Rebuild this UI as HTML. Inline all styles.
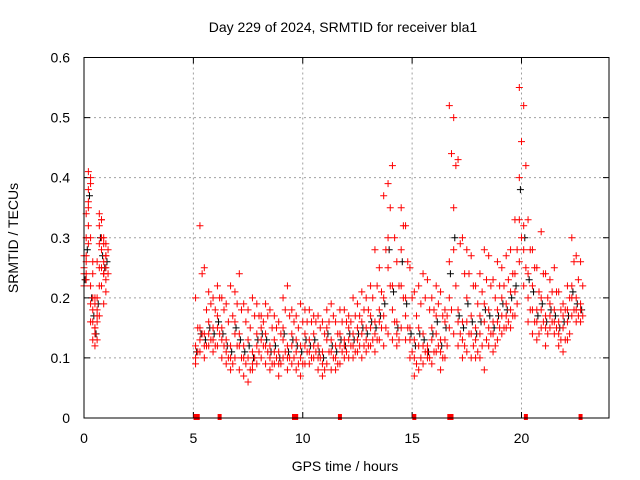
<!DOCTYPE html>
<html><head><meta charset="utf-8"><style>
body{margin:0;background:#fff;}
svg{display:block;font-family:"Liberation Sans",sans-serif;}
</style></head><body>
<svg id="chart" width="640" height="480">
<rect width="640" height="480" fill="#fff"/>
<text x="343" y="32" font-size="14" text-anchor="middle">Day 229 of 2024, SRMTID for receiver bla1</text>
<text x="345" y="471" font-size="14" text-anchor="middle">GPS time / hours</text>
<text x="0" y="0" font-size="14" text-anchor="middle" transform="translate(18,238) rotate(-90)">SRMTID / TECUs</text>
<g id="grid"></g><g id="ticks"></g><g id="marks"></g>
<rect x="84" y="57.5" width="525" height="360.5" fill="none" stroke="#000" stroke-width="1"/>
</svg>
<script>
const xTicks=[0,5,10,15,20];
const yTicks=[0,0.1,0.2,0.3,0.4,0.5,0.6];
const yTickLabels=["0","0.1","0.2","0.3","0.4","0.5","0.6"];
const times=[0.0,0.1,0.2,0.3,0.4,0.5,0.6,0.7,0.8,0.9,1.0,
5.1,5.3,5.5,5.7,5.9,6.1,
6.3,6.5,6.7,6.9,7.1,7.3,7.5,7.7,7.9,8.1,
8.3,8.5,8.7,8.9,9.1,9.3,9.5,9.7,9.9,10.1,
10.3,10.5,10.7,10.9,11.1,11.3,11.5,11.7,11.9,12.1,
12.3,12.5,12.7,12.9,13.1,13.3,13.5,
13.7,13.9,14.1,14.3,14.5,14.7,14.9,
15.1,15.3,15.5,15.7,15.9,16.1,16.3,16.5,
16.7,16.9,17.1,17.3,17.5,17.7,17.9,
18.1,18.3,18.5,18.7,18.9,19.1,19.3,19.5,19.7,
19.9,20.1,20.3,20.5,20.7,20.9,21.1,
21.3,21.5,21.7,21.9,22.1,22.3,22.5,22.7];
const seriesA=[.25,.30,.38,.22,.18,.15,.20,.32,.28,.26,.27,
.12,.15,.14,.16,.15,.17,
.15,.13,.12,.16,.14,.12,.13,.11,.14,.15,
.14,.12,.13,.11,.15,.12,.14,.13,.12,.14,
.13,.14,.12,.11,.15,.13,.12,.14,.13,.15,
.14,.15,.16,.15,.17,.16,.18,
.20,.30,.22,.16,.28,.20,.15,
.13,.15,.14,.12,.15,.17,.13,.16,
.26,.35,.18,.16,.20,.17,.15,
.17,.19,.18,.16,.18,.20,.19,.21,.24,
.40,.32,.24,.22,.18,.20,.17,
.19,.18,.16,.17,.18,.22,.20,.19];
const seriesB=[.22,.24,.35,.16,.13,.12,.16,.25,.22,.19,.23,
.09,.11,.10,.12,.11,.12,
.10,.09,.08,.10,.08,.07,.06,.08,.09,.10,
.09,.08,.09,.07,.10,.08,.09,.08,.07,.09,
.09,.10,.08,.07,.09,.08,.08,.09,.10,.10,
.10,.11,.10,.11,.12,.11,.13,
.12,.14,.13,.12,.15,.13,.10,
.07,.08,.09,.10,.09,.11,.08,.10,
.15,.14,.12,.10,.11,.10,.10,
.10,.08,.12,.11,.13,.14,.15,.15,.17,
.26,.22,.16,.14,.13,.15,.12,
.15,.14,.12,.11,.13,.17,.16,.16];
const seriesC=[.27,.34,.41,.30,.24,.19,.26,.34,.33,.29,.29,
.20,.32,.25,.21,.20,.22,
.20,.19,.22,.21,.24,.19,.18,.20,.19,.17,
.19,.18,.17,.16,.20,.22,.18,.17,.19,.18,
.18,.17,.17,.16,.18,.19,.16,.18,.18,.17,
.20,.19,.21,.20,.22,.28,.25,
.37,.39,.42,.26,.35,.32,.25,
.21,.22,.24,.23,.20,.22,.21,.18,
.52,.50,.43,.30,.28,.27,.22,
.24,.28,.27,.23,.26,.25,.27,.28,.33,
.55,.52,.33,.28,.25,.31,.24,
.23,.25,.21,.19,.22,.30,.27,.26];
const seriesD=[.24,.27,.36,.19,.16,.14,.18,.29,.25,.24,.25,
.10,.13,.12,.14,.13,.15,
.13,.11,.10,.14,.12,.10,.10,.09,.12,.13,
.12,.10,.11,.09,.13,.10,.12,.11,.10,.12,
.11,.12,.10,.09,.13,.11,.10,.12,.12,.13,
.12,.13,.14,.13,.15,.14,.16,
.17,.25,.18,.14,.22,.17,.13,
.10,.12,.12,.11,.13,.14,.11,.13,
.20,.28,.16,.13,.16,.14,.13,
.14,.16,.15,.14,.16,.17,.17,.18,.21,
.33,.28,.20,.18,.16,.18,.15,
.17,.16,.14,.15,.16,.20,.18,.18];
const seriesE=[.26,.32,.39,.20,.15,.13,.17,.30,.24,.21,.24,
.11,.14,.12,.13,.12,.14,
.12,.10,.09,.12,.10,.09,.08,.10,.11,.12,
.11,.09,.10,.09,.11,.10,.10,.09,.09,.11,
.10,.11,.10,.08,.11,.10,.09,.11,.11,.12,
.11,.12,.12,.12,.13,.13,.15,
.15,.22,.16,.13,.20,.15,.11,
.09,.10,.11,.10,.11,.12,.10,.12,
.18,.22,.14,.12,.14,.12,.11,
.12,.13,.14,.12,.15,.15,.16,.17,.19,
.30,.25,.18,.16,.14,.16,.14,
.16,.15,.13,.13,.14,.18,.17,.17];
const seriesF=[.23,.29,.40,.26,.20,.17,.22,.33,.30,.27,.28,
.15,.24,.18,.19,.18,.20,
.18,.16,.17,.19,.18,.16,.15,.17,.17,.16,
.17,.15,.15,.14,.18,.17,.16,.15,.16,.16,
.16,.16,.15,.14,.16,.17,.14,.16,.16,.16,
.17,.17,.18,.18,.20,.22,.21,
.28,.35,.30,.22,.32,.26,.20,
.17,.19,.20,.18,.18,.19,.17,.17,
.44,.42,.29,.24,.24,.22,.19,
.21,.23,.22,.20,.22,.22,.23,.24,.28,
.46,.42,.28,.25,.21,.24,.20,
.21,.21,.18,.18,.20,.26,.23,.22];
const blackK=[.23,.28,.37,.20,.17,.14,.19,.30,.27,.25,.26,
.11,.14,.13,.15,.14,.16,
.14,.12,.11,.15,.13,.11,.12,.10,.13,.14,
.13,.11,.12,.10,.14,.11,.13,.12,.11,.13,
.12,.13,.11,.10,.14,.12,.11,.13,.12,.14,
.13,.14,.15,.14,.16,.15,.17,
.19,.28,.21,.15,.26,.19,.14,
.12,.14,.13,.11,.14,.16,.12,.15,
.24,.30,.17,.15,.19,.16,.14,
.16,.18,.17,.15,.17,.19,.18,.20,.22,
.38,.30,.23,.21,.17,.19,.16,
.18,.17,.15,.16,.17,.21,.19,.18];
const zeroTimes=[5.1,5.2,6.2,9.6,9.7,11.7,15.1,16.7,16.8,20.2,22.7];

const X0=84,X1=609,Y0=418,Y1=57.5,XMAX=24,YMAX=0.6;
function xs(t){return X0+(X1-X0)*t/XMAX;}
function ys(v){return Y0-(Y0-Y1)*v/YMAX;}
const NS="http://www.w3.org/2000/svg";
const grid=document.getElementById('grid'),ticks=document.getElementById('ticks'),marks=document.getElementById('marks');
function mk(tag,attrs,parent){const e=document.createElementNS(NS,tag);for(const k in attrs)e.setAttribute(k,attrs[k]);parent.appendChild(e);return e;}
xTicks.forEach(t=>{
  const x=xs(t);
  if(t>0){const g=mk('line',{x1:x,x2:x,y1:Y1,y2:Y0,stroke:'#a0a0a0','stroke-dasharray':'2,3'},grid);
  
  }
  const tk=mk('path',{d:`M${x},${Y0}v-6M${x},${Y1}v6`,stroke:'#000'},ticks);
  
  
  const l=mk('text',{x:x,y:443,'font-size':14,'text-anchor':'middle'},ticks);l.textContent=String(t);
  
  
});
yTicks.forEach((v,i)=>{
  const y=ys(v);
  if(v>0&&v<0.6){const g=mk('line',{x1:X0,x2:X1,y1:y,y2:y,stroke:'#a0a0a0','stroke-dasharray':'2,3'},grid);
  
  }
  const tk=mk('path',{d:`M${X0},${y}h6M${X1},${y}h-6`,stroke:'#000'},ticks);
  
  
  const l=mk('text',{x:70,y:y+5,'font-size':14,'text-anchor':'end'},ticks);l.textContent=yTickLabels[i];
  
  
});
function plus(t,v,col,name){
  const x=xs(t),y=ys(v);
  const p=mk('path',{d:`M${x-3.5},${y}h7M${x},${y-3.5}v7`,stroke:col,'stroke-width':1},marks);
  
  
}
times.forEach((t,i)=>plus(t+0.05,blackK[i],'#000','black-point'));
[seriesA,seriesB,seriesC,seriesD].forEach(s=>times.forEach((t,i)=>plus(t,s[i],'#f00','red-point')));
[seriesE,seriesF].forEach(s=>times.forEach((t,i)=>plus(t+0.1,s[i],'#f00','red-point')));
zeroTimes.forEach(t=>{
  const r=mk('rect',{x:xs(t)-2,y:Y0-4,width:4,height:6,fill:'#f00'},marks);
  
  
});
</script>
</body></html>
